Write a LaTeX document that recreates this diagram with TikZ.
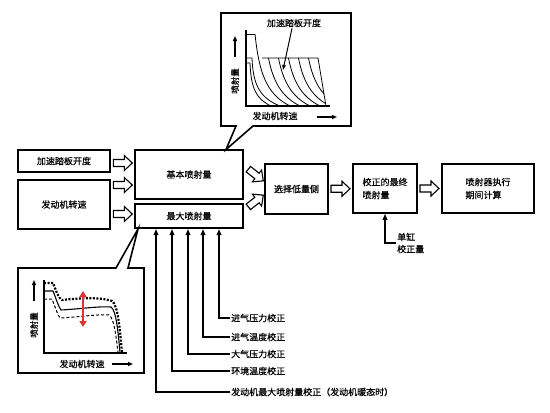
\documentclass[tikz,border=0pt]{standalone}
\usepackage{fontspec}
\setmainfont{Noto Sans CJK SC}[FakeBold=0.5]
\usetikzlibrary{arrows.meta,calc}
\definecolor{arrred}{RGB}{220,50,50}
\begin{document}
\begin{tikzpicture}[x=1pt,y=-1pt,
  box/.style={draw,line width=1.6pt,inner sep=0pt,font=\fontsize{9}{13}\selectfont},
  lbl/.style={inner sep=1pt,font=\fontsize{9}{12}\selectfont},
  corr/.style={line width=1.6pt,-{Triangle[length=6pt,width=4.5pt]}},
  callout/.style={draw,line width=1.6pt,fill=white,line join=miter},
  curve/.style={line width=0.8pt},
  harrow/.pic={\draw[line width=1.1pt,fill=white,line join=miter]
     (-9.5,-3.5) -- (1.5,-3.5) -- (1.5,-7.5) -- (9.5,0) -- (1.5,7.5) -- (1.5,3.5) -- (-9.5,3.5) -- cycle;}]
\useasboundingbox[fill=white] (0,0) rectangle (550,413);

% main boxes
\node[box,minimum width=92pt,minimum height=22pt] (acc) at (64,161) {加速踏板开度};
\node[box,minimum width=92pt,minimum height=49pt] (eng) at (64,204.5) {发动机转速};
\node[box,minimum width=108pt,minimum height=49pt] (base) at (189,174.5) {基本喷射量};
\node[box,minimum width=108pt,minimum height=24pt] (maxq) at (189,216) {最大喷射量};
\node[box,minimum width=63pt,minimum height=50pt] (sel) at (296.5,189) {选择低量侧};
\node[box,minimum width=64pt,minimum height=49pt,align=left] (fin) at (385,188.5) {校正的最终\\喷射量};
\node[box,minimum width=92pt,minimum height=49pt,align=left] (inj) at (488,188.5) {喷射器执行\\期间计算};

% hollow arrows
\pic at ($(acc.east)+(12,2)$) {harrow};
\pic at ($(eng.east)+(12,-19.5)$) {harrow};
\pic at ($(eng.east)+(12,9.5)$) {harrow};
\pic[rotate=-38] at ($(base.east)+(12,0.5)$) {harrow};
\pic[rotate=38] at ($(maxq.east)+(12,-15)$) {harrow};
\pic at ($(sel.east)!0.5!(fin.west)$) {harrow};
\pic at ($(fin.east)!0.5!(inj.west)$) {harrow};

% single cylinder correction
\node[lbl,anchor=west,align=left] (cyl) at (396,243) {单缸\\校正量};
\draw[corr] (cyl.west) -| (fin.south);

% correction inputs
\node[lbl,anchor=west] (c1) at (230,318) {进气压力校正};
\node[lbl,anchor=west] (c2) at (230,337) {进气温度校正};
\node[lbl,anchor=west] (c3) at (230,354) {大气压力校正};
\node[lbl,anchor=west] (c4) at (230,371) {环境温度校正};
\node[lbl,anchor=west] (c5) at (230,392) {发动机最大喷射量校正（发动机暖态时）};
\coordinate (m1) at (219,229);
\coordinate (m2) at (203,229);
\coordinate (m3) at (188,229);
\coordinate (m4) at (172,229);
\coordinate (m5) at (156,229);
\draw[corr] (c1.west) -| (m1);
\draw[corr] (c2.west) -| (m2);
\draw[corr] (c3.west) -| (m3);
\draw[corr] (c4.west) -| (m4);
\draw[corr] (c5.west) -| (m5);

% top callout
\draw[callout] (221,13) -- (351,13) -- (351,126) -- (253,126) -- (226,149.5) -- (236,126) -- (221,126) -- cycle;
\draw[line width=1.4pt] (246,30) -- (246,106) -- (330,106);
\draw[line width=1.6pt,-{Triangle[length=5pt,width=4pt]}] (235,57) -- (235,36);
\node[rotate=90,inner sep=0pt,font=\fontsize{8.5}{8.5}\selectfont] (ty) at (235,81) {喷射量};
\node[lbl] (tx) at (275,116) {发动机转速};
\draw[line width=1.4pt,-{Triangle[length=5pt,width=4pt]}] (317,117) -- (337,117);
\node[lbl] (tp) at (294,23) {加速踏板开度};
\begin{scope}
  \clip (246,34) -- (256,34) -- (264,58) -- (318,58) -- (326,106) -- (246,106) -- cycle;
  \foreach \s in {0,10,20,30,40,50}
    \draw[curve,xshift=\s] (255,34) .. controls (259,72) and (266,94) .. (290,106);
\end{scope}
\draw[curve] (246,34) -- (255,34);
\draw[curve] (262,58) -- (318,58) -- (326,106);
\draw[curve] (246,58) -- (252,58) .. controls (253,85) and (260,98) .. (280,106);
\draw[curve] (246,63) -- (250,63) .. controls (251,88) and (256,99) .. (271,106);
\draw[line width=1pt,-{Triangle[length=5pt,width=3.5pt]}] (tp.south) ++(-2,0) -- (283,70);

% bottom callout
\draw[callout] (18,268) -- (116,268) -- (138,229) -- (128,268) -- (144,268) -- (144,373) -- (18,373) -- cycle;
\draw[line width=1.4pt] (44,280) -- (44,353) -- (127,353);
\draw[line width=1.6pt,-{Triangle[length=5pt,width=4pt]}] (34,301) -- (34,280);
\node[rotate=90,inner sep=0pt,font=\fontsize{8.5}{8.5}\selectfont] (by) at (34,325) {喷射量};
\node[lbl] (bx) at (82,364) {发动机转速};
\draw[line width=1.4pt,-{Triangle[length=5pt,width=4pt]}] (112,364) -- (133,364);
\draw[line width=2.2pt,dash pattern=on 2pt off 1.5pt] (44,283) -- (53,283) .. controls (56,290) and (58,298) .. (62,300) .. controls (80,298) and (100,297) .. (112,301) .. controls (118,305) and (120,330) .. (122,353);
\draw[line width=1.1pt] (44,291) -- (53,291) .. controls (56,298) and (58,306) .. (61,310) .. controls (80,309) and (100,306) .. (111,307) .. controls (116,310) and (118,330) .. (120,353);
\draw[line width=1pt,dash pattern=on 3pt off 2pt] (44,299) -- (52,299) .. controls (55,306) and (57,314) .. (60,318) .. controls (80,317) and (98,314) .. (109,315) .. controls (114,318) and (116,335) .. (118,353);
\draw[arrred,line width=2.2pt,{Triangle[length=6pt,width=7pt]}-{Triangle[length=6pt,width=7pt]}] (83,291) -- (83,327);
\end{tikzpicture}
\end{document}
